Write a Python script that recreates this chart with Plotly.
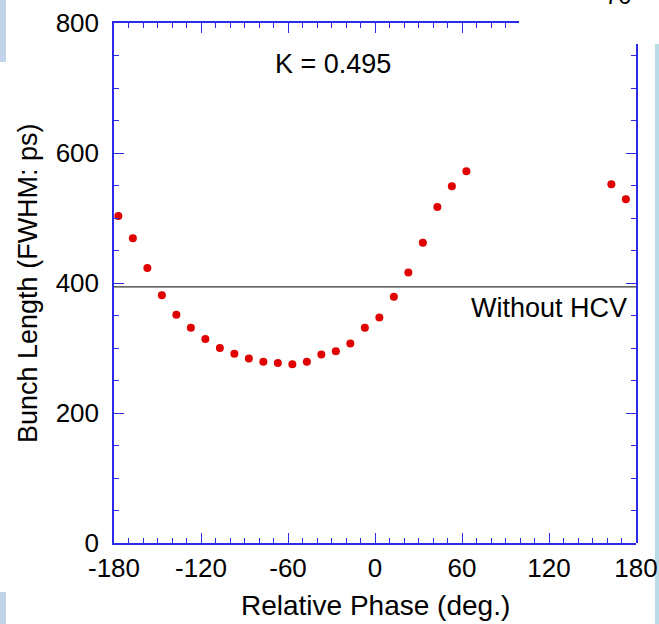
import plotly.graph_objects as go

# Data
phase = [-177, -167, -157, -147, -137, -127, -117, -107, -97, -87, -77, -67, -57,
         -47, -37, -27, -17, -7, 3, 13, 23, 33, 43, 53, 63, 163, 173]
bunch_length = [503, 469, 423, 381, 351, 331, 314, 300, 291, 284, 279, 277, 275,
                279, 290, 295, 307, 331, 347, 379, 416, 462, 517, 549, 572, 552, 529]
without_hcv = 394
x_ticks = [-180, -120, -60, 0, 60, 120, 180]
y_ticks = [0, 200, 400, 600, 800]

AX = "#2a2ae8"
FONT = "Liberation Sans, Arial, Helvetica, sans-serif"

fig = go.Figure()
# helper traces so the partial top/right frame axes are drawn
fig.add_trace(go.Scatter(x=[], y=[], xaxis="x2", yaxis="y", showlegend=False))
fig.add_trace(go.Scatter(x=[], y=[], xaxis="x", yaxis="y2", showlegend=False))
fig.add_trace(go.Scatter(x=[-180, 180], y=[without_hcv, without_hcv], mode="lines",
                         line=dict(color="#333333", width=1.3), hoverinfo="skip",
                         showlegend=False))
fig.add_trace(go.Scatter(x=phase, y=bunch_length, mode="markers",
                         marker=dict(color="#e00000", size=8), showlegend=False))

common = dict(showgrid=False, zeroline=False, showline=True, linecolor=AX, linewidth=1.5,
              ticks="inside", tickcolor=AX, tickwidth=1.2, ticklen=10, automargin=False)

fig.update_layout(
    width=659, height=624,
    margin=dict(l=114, r=23, t=23, b=81),
    paper_bgcolor="white", plot_bgcolor="rgba(0,0,0,0)",
    font=dict(family=FONT, color="black"),
    xaxis=dict(range=[-180, 180], tickvals=x_ticks, ticktext=[str(v) for v in x_ticks],
               tickfont=dict(size=26), ticklabelstandoff=1,
               minor=dict(dtick=10, tick0=-180, ticks="inside", ticklen=5.5,
                          tickcolor=AX, tickwidth=1.2),
               **common),
    yaxis=dict(range=[0, 800], tickvals=y_ticks, ticktext=[str(v) for v in y_ticks],
               tickfont=dict(size=26), ticklabelstandoff=8,
               minor=dict(dtick=50, tick0=0, ticks="inside", ticklen=5.5,
                          tickcolor=AX, tickwidth=1.2),
               **common),
    xaxis2=dict(domain=[0, 0.776], range=[-180, -180 + 0.776 * 360], anchor="y",
                side="top", showticklabels=False, tickvals=x_ticks,
                minor=dict(dtick=10, tick0=-180, ticks="inside", ticklen=5.5,
                           tickcolor=AX, tickwidth=1.2),
                **common),
    yaxis2=dict(domain=[0, 0.9605], range=[0, 0.9605 * 800], anchor="x",
                side="right", showticklabels=False, tickvals=y_ticks,
                minor=dict(dtick=50, tick0=0, ticks="inside", ticklen=5.5,
                           tickcolor=AX, tickwidth=1.2),
                **common),
)

fig.add_annotation(x=-29, y=737, xref="x", yref="y", text="K = 0.495", showarrow=False,
                   font=dict(size=27, family=FONT), xanchor="center", yanchor="middle")
fig.add_annotation(x=175, y=362, xref="x", yref="y", text="Without HCV", showarrow=False,
                   font=dict(size=27, family=FONT), xanchor="right", yanchor="middle")
fig.add_annotation(x=0.5015, y=(543 - 605) / 520, xref="paper", yref="paper",
                   text="Relative Phase (deg.)", showarrow=False,
                   font=dict(size=28, family=FONT), xanchor="center", yanchor="middle")
fig.add_annotation(x=(28 - 114) / 522, y=0.5, xref="paper", yref="paper",
                   text="Bunch Length (FWHM: ps)", showarrow=False, textangle=-90,
                   font=dict(size=27, family=FONT), xanchor="center", yanchor="middle")
fig.add_annotation(x=(618 - 114) / 522, y=(543 - 11) / 520, xref="paper", yref="paper",
                   text="70", showarrow=False, font=dict(size=24, family=FONT),
                   xanchor="center", yanchor="bottom")

# scan edge strips
for x0, x1, y0, y1, c in [(0, 6, 0, 62, "#c3d3ea"), (0, 6, 592, 624, "#c3d3ea"),
                          (655, 659, 44, 624, "#b9dce6")]:
    fig.add_shape(type="rect", xref="paper", yref="paper",
                  x0=(x0 - 114) / 522, x1=(x1 - 114) / 522,
                  y0=(543 - y1) / 520, y1=(543 - y0) / 520,
                  fillcolor=c, line=dict(width=0), layer="below")

fig.write_html("out.html")
